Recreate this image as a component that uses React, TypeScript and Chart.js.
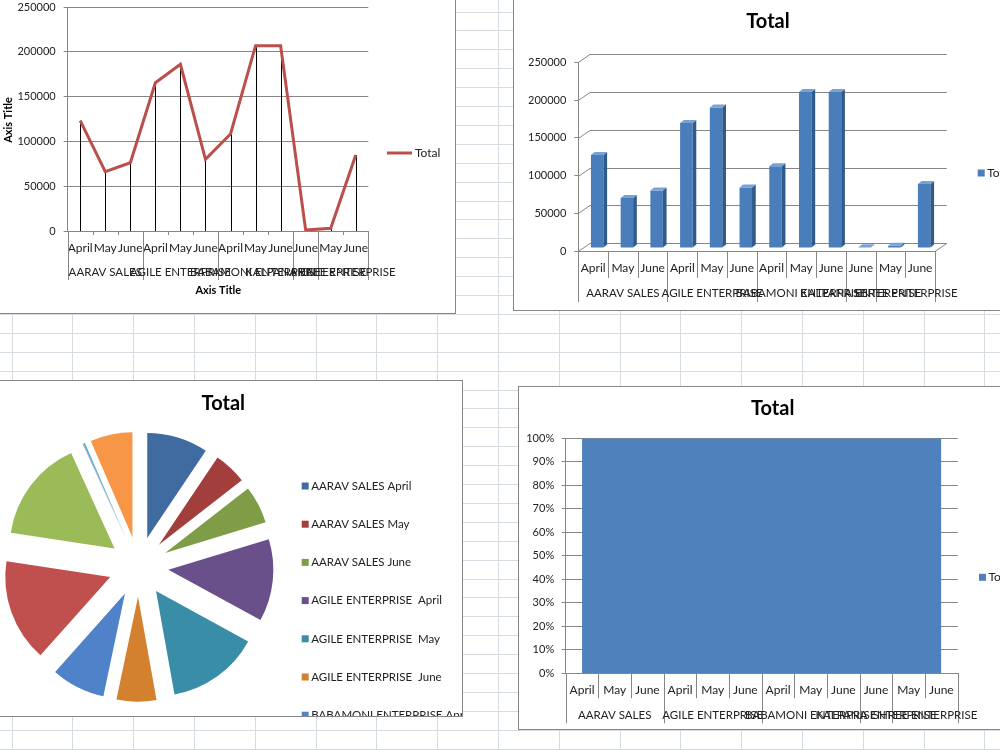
import React, { useEffect, useRef } from "react";
import { Chart, registerables } from "chart.js";

Chart.register(...registerables);

// ---- data ----------------------------------------------------------------
const months = ["April", "May", "June", "April", "May", "June", "April", "May", "June", "June", "May", "June"];
const groupNames = ["AARAV SALES", "AGILE ENTERPRISE ", "BABAMONI ENTERPRISE", "KALPANA ENTERPRISE", "SHREE ENTERPRISE"];
const groupSizes = [3, 3, 3, 1, 2];
const totals = [123100, 66200, 76200, 165500, 186000, 80000, 108300, 206800, 206800, 1000, 3000, 84800];
const seriesName = "Total";
const valueAxisMax = 250000;
const valueAxisStep = 50000;
const percentAxisStep = 10;

// 100% stacked share of each column (only one series, so every column is full)
const stackedSeries = [totals];
const columnSums = months.map((_, i) => stackedSeries.reduce((s, arr) => s + arr[i], 0));
const totalShare = totals.map((v, i) => (v / columnSums[i]) * 100);

// group index of every month column, used for the pie legend names
const groupOfColumn: number[] = [];
groupSizes.forEach((n, g) => {
  for (let k = 0; k < n; k++) groupOfColumn.push(g);
});
const pieLabels = months.map((m, i) => groupNames[groupOfColumn[i]] + " " + m);

// ---- styles --------------------------------------------------------------
const FONT = "Lato, 'Noto Sans', sans-serif";
const TEXT = "#222";
const AXIS = "#868686";
const LINE_RED = "#bb4f4c";
const BAR_FRONT = "#4a7ebb";
const BAR_SIDE = "#2f5a8c";
const BAR_TOP = "#7aa2d6";
const AREA_BLUE = "#4f81bd";
const pieColors = [
  "#3f6ba0", "#a23f3c", "#7f9c47", "#69508b", "#3a8da7", "#d3802f",
  "#4f82c8", "#c0504d", "#9bbb59", "#8064a2", "#4bacc6", "#f79646",
];

// ---- plugins -------------------------------------------------------------
type TextItem = { text: string; x: number; y: number; font: string; align?: CanvasTextAlign; rotate?: number; color?: string };

const textPlugin = (items: TextItem[]) => ({
  id: "freeText",
  afterDraw(chart: any) {
    const ctx = chart.ctx as CanvasRenderingContext2D;
    items.forEach((it) => {
      ctx.save();
      ctx.font = it.font;
      ctx.fillStyle = it.color || "#000";
      ctx.textAlign = it.align || "center";
      ctx.textBaseline = "middle";
      ctx.translate(it.x, it.y);
      if (it.rotate) ctx.rotate(it.rotate);
      ctx.fillText(it.text, 0, 0);
      ctx.restore();
    });
  },
});

type LegendEntry = { kind: "box" | "line"; color: string; text: string; x: number; y: number };

const legendPlugin = (entries: LegendEntry[], font: string) => ({
  id: "sideLegend",
  afterDraw(chart: any) {
    const ctx = chart.ctx as CanvasRenderingContext2D;
    ctx.save();
    ctx.font = font;
    ctx.textBaseline = "middle";
    ctx.textAlign = "left";
    entries.forEach((e) => {
      if (e.kind === "box") {
        ctx.fillStyle = e.color;
        ctx.fillRect(e.x, e.y - 3.5, 7, 7);
        ctx.fillStyle = TEXT;
        ctx.fillText(e.text, e.x + 9.5, e.y);
      } else {
        ctx.strokeStyle = e.color;
        ctx.lineWidth = 3;
        ctx.beginPath();
        ctx.moveTo(e.x, e.y);
        ctx.lineTo(e.x + 25, e.y);
        ctx.stroke();
        ctx.fillStyle = TEXT;
        ctx.fillText(e.text, e.x + 28, e.y);
      }
    });
    ctx.restore();
  },
});

// two-level category axis: month separators plus group separators and names
const groupAxisPlugin = (cfg: { monthLen: number; groupLen: number; labelOffset: number; font: string }) => ({
  id: "groupAxis",
  afterDraw(chart: any) {
    const ctx = chart.ctx as CanvasRenderingContext2D;
    const xs = chart.scales.x;
    const area = chart.chartArea;
    const n = months.length;
    const p0 = xs.getPixelForValue(0);
    const step = xs.getPixelForValue(1) - p0;
    const edge = (i: number) => Math.round(p0 + (i - 0.5) * step) + 0.5;
    const y0 = area.bottom;
    ctx.save();
    ctx.strokeStyle = AXIS;
    ctx.lineWidth = 1;
    ctx.beginPath();
    for (let i = 0; i <= n; i++) {
      ctx.moveTo(edge(i), y0);
      ctx.lineTo(edge(i), y0 + cfg.monthLen);
    }
    let b = 0;
    const bounds = [0];
    groupSizes.forEach((s) => {
      b += s;
      bounds.push(b);
    });
    bounds.forEach((k) => {
      ctx.moveTo(edge(k), y0);
      ctx.lineTo(edge(k), y0 + cfg.groupLen);
    });
    ctx.stroke();
    ctx.font = cfg.font;
    ctx.fillStyle = TEXT;
    ctx.textAlign = "center";
    ctx.textBaseline = "middle";
    let start = 0;
    groupNames.forEach((g, gi) => {
      const a = xs.getPixelForValue(start);
      const z = xs.getPixelForValue(start + groupSizes[gi] - 1);
      ctx.fillText(g.trim(), (a + z) / 2, y0 + cfg.labelOffset);
      start += groupSizes[gi];
    });
    ctx.restore();
  },
});

// vertical drop lines from each point of the line down to the category axis
const dropLinesPlugin = {
  id: "dropLines",
  beforeDatasetsDraw(chart: any) {
    const ctx = chart.ctx as CanvasRenderingContext2D;
    const area = chart.chartArea;
    ctx.save();
    ctx.strokeStyle = "#000";
    ctx.lineWidth = 1;
    ctx.beginPath();
    chart.getDatasetMeta(0).data.forEach((p: any) => {
      const x = Math.round(p.x) + 0.5;
      ctx.moveTo(x, p.y);
      ctx.lineTo(x, area.bottom);
    });
    ctx.stroke();
    ctx.restore();
  },
};

// 3-D look for the column chart: back-wall gridlines and extruded columns
const column3dPlugin = (cfg: { wall: [number, number]; shift: [number, number]; depth: [number, number] }) => ({
  id: "column3d",
  beforeDatasetsDraw(chart: any) {
    const ctx = chart.ctx as CanvasRenderingContext2D;
    const ys = chart.scales.y;
    const area = chart.chartArea;
    const [wx, wy] = cfg.wall;
    ctx.save();
    ctx.strokeStyle = AXIS;
    ctx.lineWidth = 1;
    ctx.beginPath();
    ys.ticks.forEach((t: any) => {
      const py = Math.round(ys.getPixelForValue(t.value)) + 0.5;
      ctx.moveTo(area.left, py);
      ctx.lineTo(area.left + wx, py + wy);
      ctx.lineTo(area.right + wx, py + wy);
    });
    const fy = Math.round(area.bottom) + 0.5;
    ctx.moveTo(area.right, fy);
    ctx.lineTo(area.right + wx, fy + wy);
    ctx.stroke();
    ctx.restore();
    ctx.save();
    ctx.translate(cfg.shift[0], cfg.shift[1]);
  },
  afterDatasetsDraw(chart: any) {
    const ctx = chart.ctx as CanvasRenderingContext2D;
    const [dx, dy] = cfg.depth;
    chart.getDatasetMeta(0).data.forEach((bar: any) => {
      const { x, y, base, width } = bar.getProps(["x", "y", "base", "width"], true);
      const l = x - width / 2;
      const r = x + width / 2;
      ctx.fillStyle = BAR_SIDE;
      ctx.beginPath();
      ctx.moveTo(r, y);
      ctx.lineTo(r + dx, y + dy);
      ctx.lineTo(r + dx, base + dy);
      ctx.lineTo(r, base);
      ctx.closePath();
      ctx.fill();
      ctx.fillStyle = BAR_TOP;
      ctx.beginPath();
      ctx.moveTo(l, y);
      ctx.lineTo(l + dx, y + dy);
      ctx.lineTo(r + dx, y + dy);
      ctx.lineTo(r, y);
      ctx.closePath();
      ctx.fill();
    });
    ctx.restore();
  },
});

// exploded pie: every slice is pushed out along its middle angle
const explodePlugin = (distance: number) => ({
  id: "explode",
  afterUpdate(chart: any) {
    chart.getDatasetMeta(0).data.forEach((arc: any) => {
      const mid = (arc.startAngle + arc.endAngle) / 2;
      arc.x += Math.cos(mid) * distance;
      arc.y += Math.sin(mid) * distance;
    });
  },
});

// ---- chart builders ------------------------------------------------------
const tickFont = (size: number) => ({ family: FONT, size });

function buildLine(canvas: HTMLCanvasElement) {
  return new Chart(canvas, {
    type: "line",
    data: {
      labels: months,
      datasets: [
        { label: seriesName, data: totals, borderColor: LINE_RED, borderWidth: 3, pointRadius: 0, tension: 0, fill: false },
      ],
    },
    options: {
      animation: false,
      responsive: false,
      layout: { padding: { left: 16.7, right: 86.7, top: 26, bottom: 22 } },
      plugins: { legend: { display: false }, title: { display: false }, tooltip: { enabled: false } },
      scales: {
        x: {
          offset: true,
          grid: { display: true, drawOnChartArea: false, drawTicks: false, offset: true },
          border: { display: true, color: AXIS },
          ticks: { autoSkip: false, maxRotation: 0, padding: 10, font: tickFont(12), color: TEXT },
          afterFit: (s: any) => { s.height = 60; },
        },
        y: {
          min: 0,
          max: valueAxisMax,
          ticks: { stepSize: valueAxisStep, padding: 8, font: tickFont(11), color: TEXT, callback: (v: any) => String(v) },
          grid: { color: AXIS, tickLength: 4 },
          border: { color: AXIS },
          afterFit: (s: any) => { s.width = 60; },
        },
      },
    } as any,
    plugins: [
      dropLinesPlugin,
      groupAxisPlugin({ monthLen: 4, groupLen: 49, labelOffset: 41, font: `11.5px ${FONT}` }),
      textPlugin([
        { text: "Axis Title", x: 17.3, y: 139, font: `bold 11px ${FONT}`, rotate: -Math.PI / 2 },
        { text: "Axis Title", x: 227.3, y: 309, font: `bold 11px ${FONT}` },
      ]),
      legendPlugin([{ kind: "line", color: LINE_RED, text: seriesName, x: 396, y: 172 }], `12px ${FONT}`),
    ] as any,
  });
}

function buildColumns(canvas: HTMLCanvasElement) {
  return new Chart(canvas, {
    type: "bar",
    data: {
      labels: months,
      datasets: [
        { label: seriesName, data: totals, backgroundColor: BAR_FRONT, borderWidth: 0, barPercentage: 0.42, categoryPercentage: 1 },
      ],
    },
    options: {
      animation: false,
      responsive: false,
      layout: { padding: { left: 14.3, right: 117, top: 81.3, bottom: 9 } },
      plugins: { legend: { display: false }, title: { display: false }, tooltip: { enabled: false } },
      scales: {
        x: {
          grid: { display: true, drawOnChartArea: false, drawTicks: false },
          border: { display: true, color: AXIS },
          ticks: { autoSkip: false, maxRotation: 0, padding: 10, font: tickFont(12), color: TEXT },
          afterFit: (s: any) => { s.height = 50; },
        },
        y: {
          min: 0,
          max: valueAxisMax,
          ticks: { stepSize: valueAxisStep, padding: 8, font: tickFont(11), color: TEXT, callback: (v: any) => String(v) },
          grid: { color: AXIS, tickLength: 4, drawOnChartArea: false },
          border: { color: AXIS },
          afterFit: (s: any) => { s.width = 50; },
        },
      },
    } as any,
    plugins: [
      column3dPlugin({ wall: [11.7, -8], shift: [4, -3], depth: [3.7, -3] }),
      groupAxisPlugin({ monthLen: 27, groupLen: 51, labelOffset: 42, font: `11.5px ${FONT}` }),
      textPlugin([{ text: seriesName, x: 254, y: 41, font: `bold 20px ${FONT}` }]),
      legendPlugin([{ kind: "box", color: BAR_FRONT, text: seriesName, x: 463.7, y: 192 }], `12px ${FONT}`),
    ] as any,
  });
}

function buildPie(canvas: HTMLCanvasElement) {
  return new Chart(canvas, {
    type: "pie",
    data: {
      labels: pieLabels,
      datasets: [{ label: seriesName, data: totals, backgroundColor: pieColors, borderWidth: 0, radius: 105 }],
    },
    options: {
      animation: false,
      responsive: false,
      layout: { padding: { left: 0, right: 166, top: 60, bottom: 23.6 } },
      plugins: { legend: { display: false }, title: { display: false }, tooltip: { enabled: false } },
    } as any,
    plugins: [
      explodePlugin(30),
      textPlugin([{ text: seriesName, x: 242.3, y: 23, font: `bold 20px ${FONT}` }]),
      legendPlugin(
        pieLabels.map((t, i) => ({ kind: "box" as const, color: pieColors[i], text: t, x: 320.7, y: 105 + 38.2 * i })),
        `11.5px ${FONT}`
      ),
    ] as any,
  });
}

function buildShare(canvas: HTMLCanvasElement) {
  return new Chart(canvas, {
    type: "line",
    data: {
      labels: months,
      datasets: [
        { label: seriesName, data: totalShare, backgroundColor: AREA_BLUE, borderWidth: 0, pointRadius: 0, tension: 0, fill: "origin" },
      ],
    },
    options: {
      animation: false,
      responsive: false,
      layout: { padding: { left: 6.7, right: 99.3, top: 51.3, bottom: 5.7 } },
      plugins: { legend: { display: false }, title: { display: false }, tooltip: { enabled: false } },
      scales: {
        x: {
          offset: true,
          grid: { display: true, drawOnChartArea: false, drawTicks: false, offset: true },
          border: { display: true, color: AXIS },
          ticks: { autoSkip: false, maxRotation: 0, padding: 9.5, font: tickFont(12), color: TEXT },
          afterFit: (s: any) => { s.height = 50; },
        },
        y: {
          min: 0,
          max: 100,
          ticks: { stepSize: percentAxisStep, padding: 7.5, font: tickFont(11), color: TEXT, callback: (v: any) => v + "%" },
          grid: { color: AXIS, tickLength: 4 },
          border: { color: AXIS },
          afterFit: (s: any) => { s.width = 40; },
        },
      },
    } as any,
    plugins: [
      groupAxisPlugin({ monthLen: 25, groupLen: 50, labelOffset: 41.7, font: `11.5px ${FONT}` }),
      textPlugin([{ text: seriesName, x: 253.7, y: 22, font: `bold 20px ${FONT}` }]),
      legendPlugin([{ kind: "box", color: AREA_BLUE, text: seriesName, x: 460, y: 190.3 }], `12px ${FONT}`),
    ] as any,
  });
}

// ---- layout --------------------------------------------------------------
type Box = { left: number; top: number; width: number; height: number };

function ChartPanel({ box, build }: { box: Box; build: (c: HTMLCanvasElement) => Chart }) {
  const ref = useRef<HTMLCanvasElement>(null);
  useEffect(() => {
    const chart = build(ref.current as HTMLCanvasElement);
    return () => chart.destroy();
  }, [build]);
  const w = box.width - 2;
  const h = box.height - 2;
  return (
    <div
      style={{
        position: "absolute",
        left: box.left,
        top: box.top,
        width: w,
        height: h,
        border: "1px solid #868686",
        background: "#fff",
        overflow: "hidden",
      }}
    >
      <canvas ref={ref} width={w} height={h} style={{ display: "block", width: w, height: h }} />
    </div>
  );
}

const SHEET_LINE = "#d6dbe2";
const colLines = Array.from({ length: 17 }, (_, k) => Math.round(11.5 + 60.8 * k));
const rowLines = Array.from({ length: 40 }, (_, k) => Math.round(11.5 + 18.9 * k));

export default function App() {
  return (
    <div
      style={{
        position: "fixed",
        left: 0,
        top: 0,
        width: 1000,
        height: 750,
        overflow: "hidden",
        background: "#fff",
      }}
    >
      {colLines.map((x) => (
        <div key={"c" + x} style={{ position: "absolute", left: x, top: 0, width: 1, height: 750, background: SHEET_LINE }} />
      ))}
      {rowLines.map((y) => (
        <div key={"r" + y} style={{ position: "absolute", left: 0, top: y, width: 1000, height: 1, background: SHEET_LINE }} />
      ))}
      <ChartPanel box={{ left: -10, top: -20, width: 466, height: 334 }} build={buildLine} />
      <ChartPanel box={{ left: 513, top: -20, width: 540, height: 331 }} build={buildColumns} />
      <ChartPanel box={{ left: -20, top: 380, width: 483, height: 337 }} build={buildPie} />
      <ChartPanel box={{ left: 518, top: 386, width: 540, height: 344 }} build={buildShare} />
    </div>
  );
}
